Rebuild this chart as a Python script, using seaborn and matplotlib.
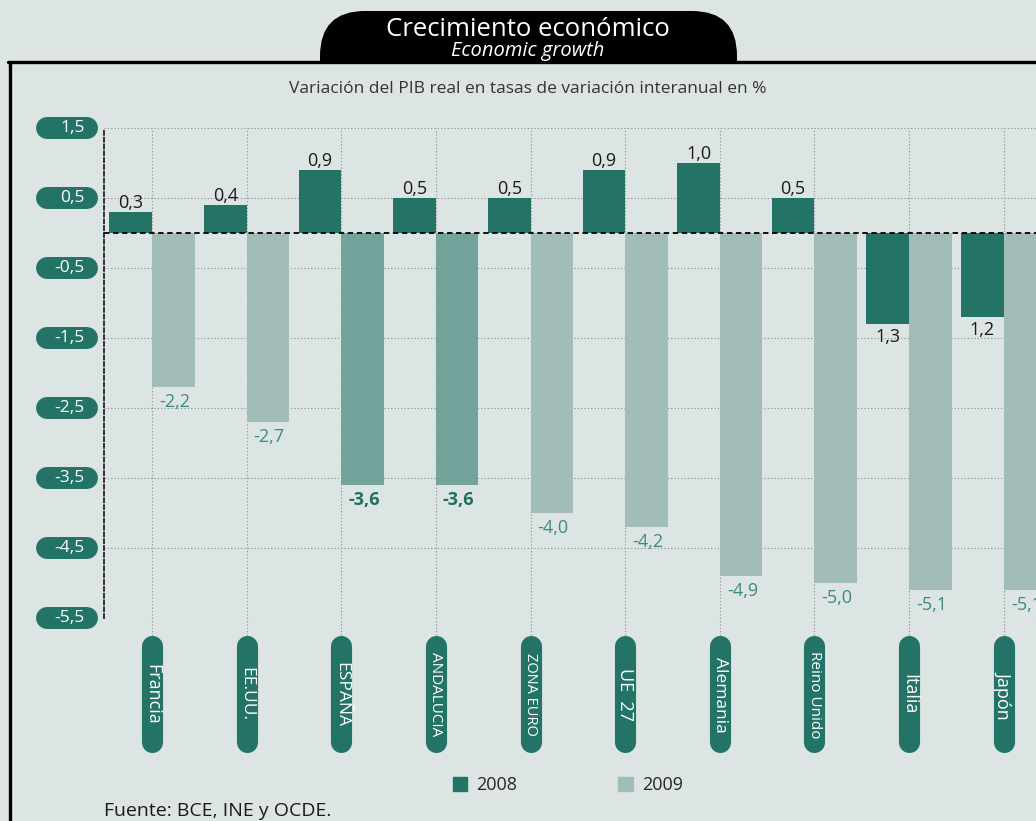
import matplotlib
matplotlib.use("Agg")
import matplotlib.pyplot as plt
import seaborn as sns
import pandas as pd
from matplotlib.patches import FancyBboxPatch, Patch
from matplotlib.transforms import IdentityTransform, Bbox, blended_transform_factory

# data
paises = ["Francia", "EE.UU.", "ESPAÑA", "ANDALUCIA", "ZONA EURO", "UE  27",
          "Alemania", "Reino Unido", "Italia", "Japón"]
v2008 = [0.3, 0.4, 0.9, 0.5, 0.5, 0.9, 1.0, 0.5, -1.3, -1.2]
v2009 = [-2.2, -2.7, -3.6, -3.6, -4.0, -4.2, -4.9, -5.0, -5.1, -5.1]
anios = ["2008", "2009"]
yticks = [1.5, 0.5, -0.5, -1.5, -2.5, -3.5, -4.5, -5.5]

bg = "#dce5e3"
dark = "#237367"
light = "#a2bdb8"
mid = "#74a39b"
lab_sizes = [13, 12.5, 12.5, 11, 10.5, 13, 12.5, 11, 13, 13]

sns.set_theme(style="white")
plt.rcParams["font.family"] = ["Open Sans", "DejaVu Sans"]

df = pd.DataFrame({
    "pais": paises * 2,
    "anio": ["2008"] * len(paises) + ["2009"] * len(paises),
    "valor": v2008 + v2009,
})

fig = plt.figure(figsize=(10.36, 8.21), dpi=100, facecolor=bg)
ax = fig.add_axes([104 / 1036, 1 - 618 / 821, 947 / 1036, 490 / 821])
ax.set_facecolor(bg)

sns.barplot(data=df, x="pais", y="valor", hue="anio", hue_order=anios,
            palette=[dark, light], width=0.9, saturation=1, legend=False,
            linewidth=0, ax=ax, zorder=2)
for i in (2, 3):
    ax.containers[1][i].set_facecolor(mid)

ax.set_xlim(-0.507, 9.5)
ax.set_ylim(-5.5, 1.5)
ax.set_xlabel("")
ax.set_ylabel("")
ax.set_yticks(yticks)
ax.set_yticklabels([])
ax.set_xticks([])
ax.tick_params(length=0)
ax.set_axisbelow(True)
ax.yaxis.grid(True, linestyle=(0, (1, 2)), color="#8a8a8a", lw=0.8)
for s in ("top", "right", "bottom"):
    ax.spines[s].set_visible(False)
ax.spines["left"].set_linestyle((0, (2, 1.5)))
ax.spines["left"].set_color("#333333")
ax.spines["left"].set_linewidth(1.4)

ax.axhline(0, color="black", lw=1.3, linestyle=(0, (3, 2)), zorder=3)

# vertical grid lines at category centres, running down to the label pills
ax.vlines(range(len(paises)), -0.035, 1, transform=ax.get_xaxis_transform(),
          colors="#8a8a8a", lw=0.8, linestyles=(0, (1, 2)), clip_on=False, zorder=0)

# value labels
for i, v in enumerate(v2008):
    txt = f"{abs(v):.1f}".replace(".", ",")
    if v >= 0:
        ax.annotate(txt, (i - 0.225, v), xytext=(0, 0), textcoords="offset points",
                    ha="center", va="bottom", fontsize=13, color="#1a1a1a")
    else:
        ax.annotate(txt, (i - 0.225, v), xytext=(0, -3), textcoords="offset points",
                    ha="center", va="top", fontsize=13, color="#1a1a1a")
for i, v in enumerate(v2009):
    txt = f"{v:.1f}".replace(".", ",")
    bold = i in (2, 3)
    ax.annotate(txt, (i + 0.225, v), xytext=(1, -4), textcoords="offset points",
                ha="center", va="top", fontsize=13,
                fontweight="bold" if bold else "normal",
                color="#1f6f63" if bold else "#3f8a7f")

# y tick pills
ytr = blended_transform_factory(ax.transAxes, ax.transData)
for t in yticks:
    ax.plot([-0.0602, -0.018], [t, t], transform=ytr, color=dark, lw=15.8,
            solid_capstyle="round", clip_on=False, zorder=4)
    ax.text(-0.0205, t, f"{t:.1f}".replace(".", ","), transform=ytr,
            ha="right", va="center", color="white", fontsize=12.5, zorder=5)

# category pills
xtr = ax.get_xaxis_transform()
for i, p in enumerate(paises):
    ax.plot([i, i], [-0.058, -0.254], transform=xtr, color=dark, lw=15.2,
            solid_capstyle="round", clip_on=False, zorder=4)
    ax.text(i, -0.156, p, transform=xtr, rotation=-90, ha="center", va="center",
            color="white", fontsize=lab_sizes[i], zorder=5)

# frame lines
fig.add_artist(plt.Line2D([8 / 1036, 1], [1 - 62 / 821] * 2, color="black", lw=2.4,
                          transform=fig.transFigure))
fig.add_artist(plt.Line2D([10 / 1036] * 2, [0, 1 - 62 / 821], color="black", lw=2.4,
                          transform=fig.transFigure))

# title tab
tab = FancyBboxPatch((320, 821 - 130), 417, 119, boxstyle="round,pad=0,rounding_size=45",
                     transform=IdentityTransform(), facecolor="black", edgecolor="none")
tab.set_clip_box(Bbox.from_extents(0, 821 - 62, 1036, 821))
fig.add_artist(tab)
fig.text(528 / 1036, 1 - 30 / 821, "Crecimiento económico", ha="center", va="center",
         color="white", fontsize=18.5)
fig.text(528 / 1036, 1 - 51 / 821, "Economic growth", ha="center", va="center",
         color="white", fontsize=14.5, style="italic")

fig.text(528 / 1036, 1 - 89 / 821,
         "Variación del PIB real en tasas de variación interanual en %",
         ha="center", va="center", color="#333333", fontsize=12.5)

fig.legend(handles=[Patch(color=dark), Patch(color=light)], labels=anios,
           loc="center", bbox_to_anchor=(568 / 1036, 1 - 785 / 821), ncol=2,
           frameon=False, handlelength=0.8, handleheight=0.8, handletextpad=0.5,
           columnspacing=5.6, fontsize=13)

fig.text(104 / 1036, 1 - 811 / 821, "Fuente: BCE, INE y OCDE.", ha="left",
         va="center", color="#1a1a1a", fontsize=14)

fig.savefig("out.png", dpi=100, facecolor=bg)
